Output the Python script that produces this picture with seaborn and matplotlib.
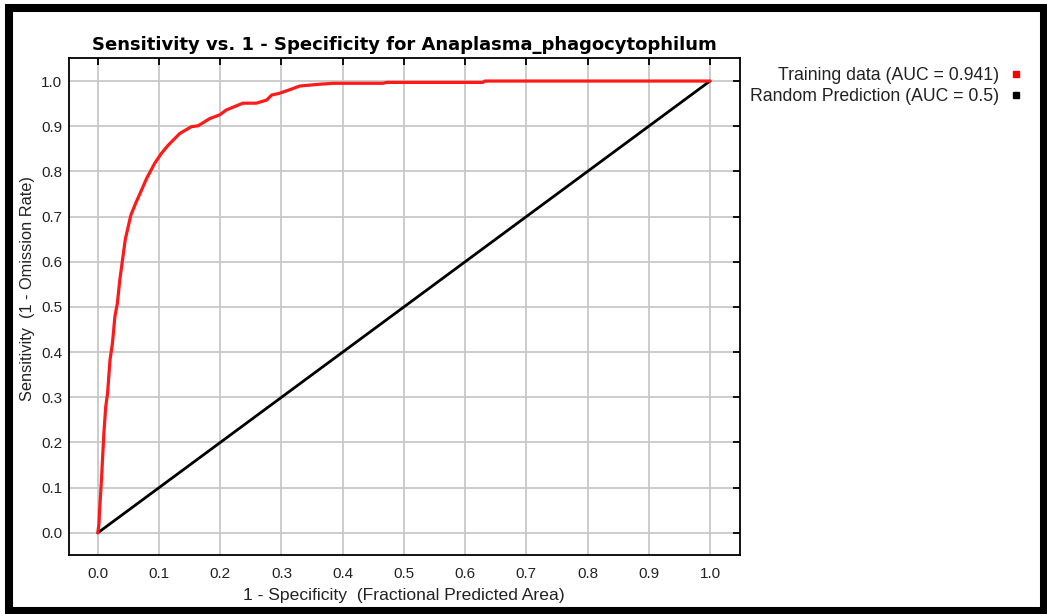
import numpy as np
import pandas as pd
import matplotlib
matplotlib.use("Agg")
import matplotlib.pyplot as plt
from matplotlib.lines import Line2D
from matplotlib.patches import Rectangle
import seaborn as sns

# ===== 数据 =====
fpr = [0.0, 0.002, 0.003, 0.006, 0.008, 0.010, 0.013, 0.016, 0.020, 0.024, 0.028,
       0.032, 0.036, 0.040, 0.045, 0.054, 0.062, 0.069, 0.080, 0.093, 0.104, 0.115,
       0.134, 0.153, 0.164, 0.183, 0.199, 0.210, 0.237, 0.259, 0.276, 0.284, 0.297,
       0.314, 0.330, 0.363, 0.385, 0.466, 0.472, 0.629, 0.632, 1.0]
tpr = [0.0, 0.02, 0.051, 0.117, 0.169, 0.221, 0.279, 0.309, 0.383, 0.420, 0.479,
       0.508, 0.560, 0.600, 0.650, 0.703, 0.730, 0.751, 0.785, 0.818, 0.840, 0.858,
       0.884, 0.899, 0.901, 0.917, 0.925, 0.936, 0.951, 0.951, 0.958, 0.969, 0.973,
       0.981, 0.989, 0.993, 0.995, 0.995, 0.997, 0.997, 1.0, 1.0]
rand_x = [0.0, 1.0]
rand_y = [0.0, 1.0]
ticks = np.round(np.arange(0, 1.01, 0.1), 1)

train_label = 'Training data (AUC = 0.941)'
rand_label = 'Random Prediction (AUC = 0.5)'

# ===== 风格 =====
sns.set_theme(style='white')
plt.rcParams['font.family'] = ['Liberation Sans', 'DejaVu Sans']
C_RED = '#ff1a1a'
C_GRID = '#c8c8c8'
C_TEXT = '#222222'

fig = plt.figure(figsize=(10.47, 6.14), dpi=100)
ax = fig.add_axes([69 / 1047, 59 / 614, 671 / 1047, 497 / 614])

df_train = pd.DataFrame({'x': fpr, 'y': tpr})
df_rand = pd.DataFrame({'x': rand_x, 'y': rand_y})

sns.lineplot(data=df_rand, x='x', y='y', color='black', linewidth=2.0,
             sort=False, estimator=None, ax=ax, zorder=3)
sns.lineplot(data=df_train, x='x', y='y', color=C_RED, linewidth=2.3,
             sort=False, estimator=None, ax=ax, zorder=4)

ax.set_xlim(-0.047, 1.049)
ax.set_ylim(-0.049, 1.051)
ax.set_xticks(ticks)
ax.set_yticks(ticks)
ax.set_xticklabels([f'{t:.1f}' for t in ticks])
ax.set_yticklabels([f'{t:.1f}' for t in ticks])
ax.grid(True, color=C_GRID, linewidth=1.3)
ax.set_axisbelow(True)
for sp in ax.spines.values():
    sp.set_color('black')
    sp.set_linewidth(1.3)
    sp.set_visible(True)
ax.tick_params(direction='in', length=5, width=1.3, color='black',
               top=True, right=True, labelsize=11, labelcolor=C_TEXT)
ax.tick_params(axis='x', pad=9)
ax.tick_params(axis='y', pad=5)

ax.set_xlabel('1 - Specificity  (Fractional Predicted Area)', fontsize=12.6, color=C_TEXT)
ax.set_ylabel('Sensitivity  (1 - Omission Rate)', fontsize=11.8, color=C_TEXT)
ax.xaxis.set_label_coords(0.499, -0.066)
ax.yaxis.set_label_coords(-0.05, 0.537)
ax.set_title('Sensitivity vs. 1 - Specificity for Anaplasma_phagocytophilum',
             fontsize=13, fontweight='bold', color='black', pad=6,
             family=['DejaVu Sans'])

# 图例：文字在左，色块在右
handles = [Line2D([], [], marker='s', linestyle='none', color='red', markersize=5),
           Line2D([], [], marker='s', linestyle='none', color='black', markersize=5)]
fig.legend(handles, [train_label, rand_label], loc='upper right',
           bbox_to_anchor=(1032 / 1047, 1 - 58 / 614), frameon=False,
           markerfirst=False, fontsize=12.7, handlelength=0.8, handletextpad=0.55,
           labelspacing=0.25, borderpad=0, labelcolor=C_TEXT)

# 外框
fig.patches.append(Rectangle((9 / 1047, 3.5 / 614), 1034.5 / 1047, 602.5 / 614,
                             transform=fig.transFigure, fill=False,
                             edgecolor='black', linewidth=5.8))

fig.savefig('out.png', dpi=100)
